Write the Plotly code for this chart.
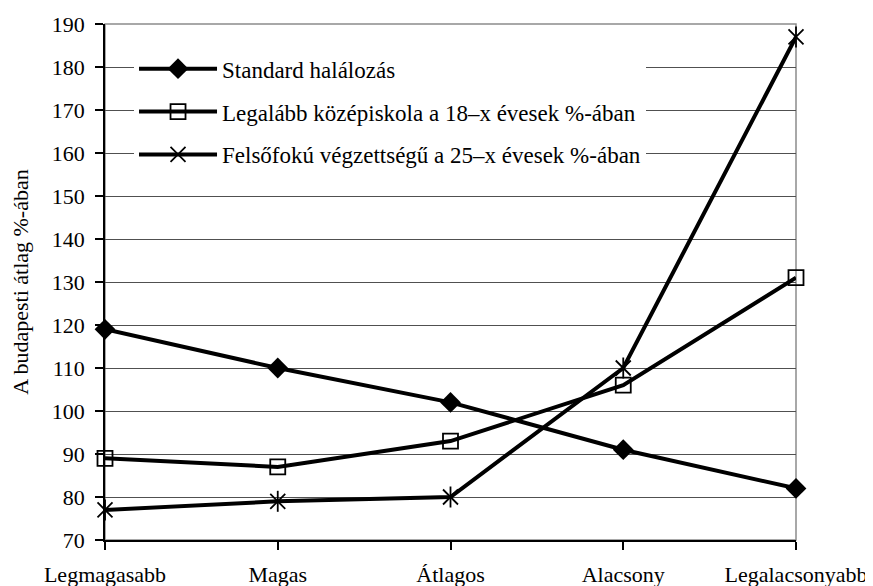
import plotly.graph_objects as go

kategoriak = ["Legmagasabb", "Magas", "Átlagos", "Alacsony", "Legalacsonyabb"]
halalozas = [119, 110, 102, 91, 82]
kozepiskola = [89, 87, 93, 106, 131]
felsofoku = [77, 79, 80, 110, 187]

nev_halalozas = "Standard halálozás"
nev_kozepiskola = "Legalább középiskola a 18–x évesek %-ában"
nev_felsofoku = "Felsőfokú végzettségű a 25–x évesek %-ában"

FONT = "Liberation Serif"

fig = go.Figure()

# keret (felső és jobb oldal szürke)
fig.add_shape(type="rect", xref="paper", yref="paper", x0=0, x1=1, y0=0, y1=1,
              line=dict(color="#8c8c8c", width=1.5), layer="below")

fig.add_trace(go.Scatter(
    x=kategoriak, y=halalozas, name=nev_halalozas, legendgroup="a",
    mode="lines+markers", cliponaxis=False,
    line=dict(color="black", width=4),
    marker=dict(symbol="diamond", size=16, color="black")
))

fig.add_trace(go.Scatter(
    x=kategoriak, y=kozepiskola, name=nev_kozepiskola, legendgroup="b",
    mode="lines+markers", cliponaxis=False,
    line=dict(color="black", width=4),
    marker=dict(symbol="square-open", size=15, color="black", line=dict(width=1.8))
))

fig.add_trace(go.Scatter(
    x=kategoriak, y=felsofoku, name=nev_felsofoku, legendgroup="c",
    mode="lines+markers", cliponaxis=False,
    line=dict(color="black", width=4),
    marker=dict(symbol="x-thin-open", size=15, color="black", line=dict(width=1.8, color="black"))
))
# csillag függőleges szára
fig.add_trace(go.Scatter(
    x=kategoriak, y=felsofoku, legendgroup="c", showlegend=False,
    mode="markers", cliponaxis=False, hoverinfo="skip",
    marker=dict(symbol="line-ns-open", size=15, color="black", line=dict(width=1.8, color="black"))
))

# az oldal 8 px-es body-margóját a margók levonják
fig.update_layout(
    width=873, height=586,
    margin=dict(l=97, r=85, t=16, b=54),
    plot_bgcolor="white", paper_bgcolor="white",
    font=dict(family=FONT, size=22, color="black"),
    showlegend=True,
    legend=dict(
        x=0.042, y=0.955, xanchor="left", yanchor="top",
        bgcolor="white", borderwidth=0,
        traceorder="grouped", tracegroupgap=10,
        font=dict(family=FONT, size=23, color="black"),
        itemwidth=78,
    ),
    xaxis=dict(
        type="category", range=[0, 4], automargin=False,
        showline=True, linecolor="black", linewidth=1.5,
        ticks="outside", ticklen=8, tickcolor="black", tickwidth=1.5,
        showgrid=False, zeroline=False,
        ticklabelstandoff=6,
        tickfont=dict(family=FONT, size=22, color="black"),
    ),
    yaxis=dict(
        range=[70, 190], dtick=10, tick0=70, automargin=False,
        showline=True, linecolor="black", linewidth=1.5,
        ticks="outside", ticklen=8, tickcolor="black", tickwidth=1.5,
        showgrid=True, gridcolor="#505050", gridwidth=1.2,
        zeroline=False, ticklabelstandoff=6,
        tickfont=dict(family=FONT, size=22, color="black"),
        title=dict(text="A budapesti átlag %-ában", standoff=22,
                   font=dict(family=FONT, size=22, color="black")),
    ),
)

fig.write_html("out.html")
